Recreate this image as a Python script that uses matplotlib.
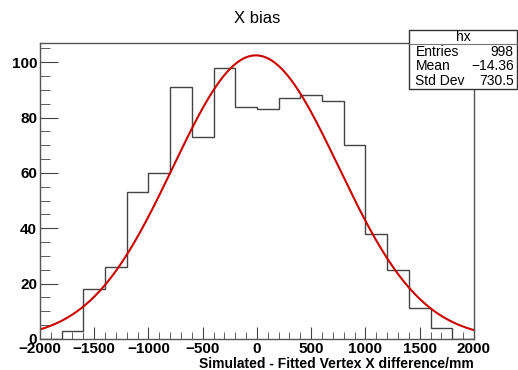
import numpy as np
import matplotlib.pyplot as plt
from matplotlib.patches import Rectangle
from matplotlib.ticker import MultipleLocator

plt.rcParams['font.family'] = ['Liberation Sans', 'DejaVu Sans']

bin_edges = np.arange(-2000, 2001, 200)
counts = [0, 3, 18, 26, 53, 60, 91, 73, 98, 84,
          83, 87, 88, 86, 70, 38, 25, 11, 4, 0]

# gaussian fit parameters
fit_amp = 102.5
fit_mean = -10.0
fit_sigma = 763.0

stats_names = ["Entries", "Mean", "Std Dev"]
stats_values = ["998", "\u221214.36", "730.5"]

fig = plt.figure(figsize=(5.18, 3.70), dpi=100)
ax = fig.add_axes([0.077, 0.084, 0.838, 0.800])

ax.stairs(counts, bin_edges, color='#444444', linewidth=1.0)

xs = np.linspace(-2000, 2000, 400)
ys = fit_amp * np.exp(-0.5 * ((xs - fit_mean) / fit_sigma) ** 2)
ax.plot(xs, ys, color='#cc0000', linewidth=1.5)

ax.set_xlim(-2000, 2000)
ax.set_ylim(0, 107)
ax.xaxis.set_major_locator(MultipleLocator(500))
ax.xaxis.set_minor_locator(MultipleLocator(100))
ax.yaxis.set_major_locator(MultipleLocator(20))
ax.yaxis.set_minor_locator(MultipleLocator(5))
ax.tick_params(which='both', direction='in', top=False, right=False,
               labelsize=11, color='#444444', pad=2)
ax.tick_params(axis='x', which='major', length=9)
ax.tick_params(axis='x', which='minor', length=5)
ax.tick_params(axis='y', which='major', length=13)
ax.tick_params(axis='y', which='minor', length=7)
for lab in ax.get_xticklabels() + ax.get_yticklabels():
    lab.set_fontweight('bold')
for sp in ax.spines.values():
    sp.set_color('#555555')
    sp.set_linewidth(1.0)

ax.set_xlabel("Simulated - Fitted Vertex X difference/mm", fontsize=10,
              fontweight='bold', loc='right', labelpad=1)

fig.text(0.496, 0.950, "X bias", fontsize=12, ha='center', va='center')

# stats box
bx0, by0, bw, bh = 0.790, 0.760, 0.208, 0.160
fig.patches.append(Rectangle((bx0, by0), bw, bh, transform=fig.transFigure,
                             facecolor='white', edgecolor='#333333',
                             linewidth=1.0, zorder=5))
fig.add_artist(plt.Line2D([bx0, bx0 + bw], [by0 + bh * 0.76] * 2,
                          transform=fig.transFigure, color='#777777',
                          linewidth=0.8, zorder=6))
fig.text(bx0 + bw / 2, by0 + bh * 0.88, "hx", fontsize=10, ha='center',
         va='center', zorder=7)
for i, (name, val) in enumerate(zip(stats_names, stats_values)):
    yy = by0 + bh * (0.62 - i * 0.24)
    fig.text(bx0 + 0.012, yy, name, fontsize=10, ha='left', va='center',
             zorder=7)
    fig.text(bx0 + bw - 0.006, yy, val, fontsize=10, ha='right',
             va='center', zorder=7)

fig.savefig("out.png", dpi=100)
